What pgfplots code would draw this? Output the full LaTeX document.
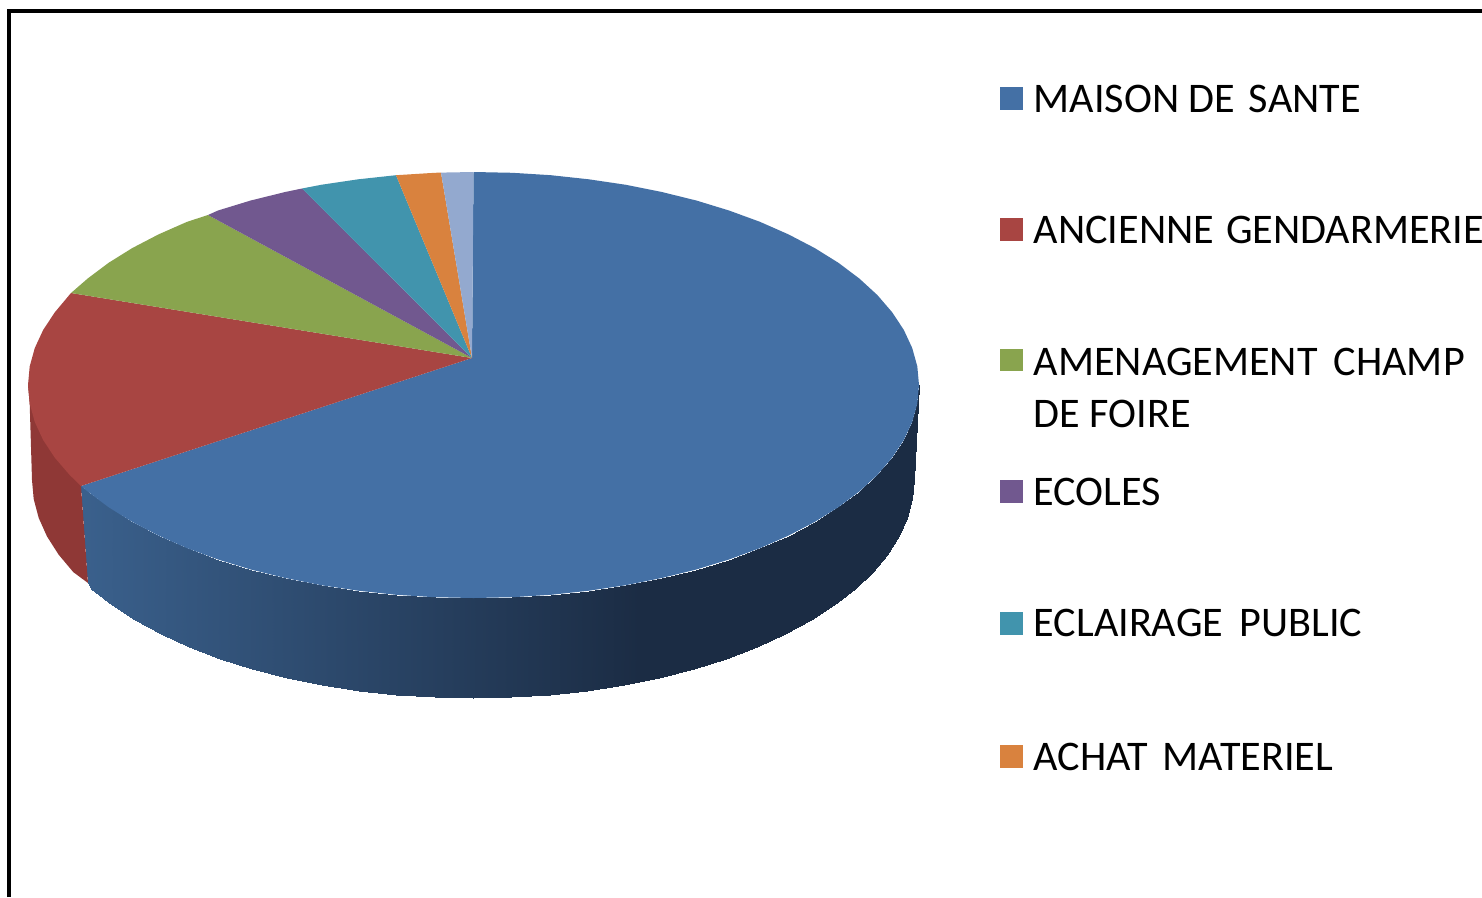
\documentclass[border=0pt]{standalone}
\usepackage{pgfplots}
\usepackage{fontspec}
\setmainfont{Carlito}
\pgfplotsset{compat=1.18}

\definecolor{sliceblue}{RGB}{68,112,165}
\definecolor{slicered}{RGB}{168,69,66}
\definecolor{sidered}{RGB}{143,56,54}
\definecolor{slicegreen}{RGB}{137,164,78}
\definecolor{slicepurple}{RGB}{113,88,143}
\definecolor{sliceteal}{RGB}{65,148,173}
\definecolor{sliceorange}{RGB}{217,130,62}
\definecolor{slicelight}{RGB}{147,169,207}

\newcommand{\legendtext}[2]{\node[anchor=base west,inner sep=0pt,font=\fontsize{12}{14}\selectfont] at (axis cs:1033,#1) {#2};}

\begin{document}
\begin{tikzpicture}
\begin{axis}[
  scale only axis,
  width=14.82cm, height=8.97cm,
  xmin=0, xmax=1482, ymin=0, ymax=897,
  y dir=reverse,
  axis lines=none,
  colormap={sideshade}{rgb255(0cm)=(58,96,140) rgb255(5.55cm)=(27,44,68) rgb255(8.35cm)=(27,44,68)},
  point meta min=85, point meta max=920,
]
% frame, cut off at the right and bottom
\addplot[black, line width=1pt] coordinates {(9,897) (9,11) (1482,11)};

% rim of the blue slice: top edge and bottom edge, pairwise
\addplot[surf, shader=interp, draw=none, mesh/rows=32, mesh/cols=2, point meta=x] table {
919 385
914 480
917.3 403.6
912.3 499
912.2 422
907.3 517.9
903.8 440.1
899 536.4
892.1 457.8
887.4 554.6
877.3 475
872.7 572.1
859.3 491.5
854.9 589
838.4 507.2
834.3 605
814.8 521.9
810.8 620.1
788.5 535.6
784.8 634.1
759.9 548.2
756.5 647
729 559.5
726 658.6
696.3 569.5
693.5 668.8
661.8 578
659.4 677.6
625.9 585.2
623.8 684.9
588.8 590.7
587.1 690.6
550.9 594.8
549.6 694.7
512.3 597.2
511.4 697.2
473.5 598
473 698
434.7 597.2
434.6 697.2
396.1 594.8
396.4 694.7
358.2 590.7
358.9 690.6
321.1 585.2
322.2 684.9
285.2 578
286.6 677.6
250.7 569.5
252.5 668.8
218 559.5
220 658.6
187.1 548.2
189.5 647
158.5 535.6
161.2 634.1
132.2 521.9
135.2 620.1
108.6 507.2
111.7 605
87.7 491.5
91.1 589
81 486
88 583
};

% rim of the red slice
\addplot[draw=none, fill=sidered] coordinates {
(81,486) (88,583) (73.3,572.1) (58.6,554.6) (47,536.4) (38.7,517.9) (33.7,499) (32,480)
(29.7,403.6) (28,385) (60,420)
} --cycle;

% top faces
\addplot[draw=none, fill=sliceblue] coordinates {
(472,358) (473.5,172) (512.3,172.8) (550.9,175.2) (588.8,179.3) (625.9,184.8) (661.8,192)
(696.3,200.5) (729,210.5) (759.9,221.8) (788.5,234.4) (814.8,248.1) (838.4,262.8)
(859.3,278.5) (877.3,295) (892.1,312.2) (903.8,329.9) (912.2,348) (917.3,366.4) (919,385)
(917.3,403.6) (912.2,422) (903.8,440.1) (892.1,457.8) (877.3,475) (859.3,491.5) (838.4,507.2)
(814.8,521.9) (788.5,535.6) (759.9,548.2) (729,559.5) (696.3,569.5) (661.8,578) (625.9,585.2)
(588.8,590.7) (550.9,594.8) (512.3,597.2) (473.5,598) (434.7,597.2) (396.1,594.8) (358.2,590.7)
(321.1,585.2) (285.2,578) (250.7,569.5) (218,559.5) (187.1,548.2) (158.5,535.6) (132.2,521.9)
(108.6,507.2) (87.7,491.5) (81,486)
} --cycle;
\addplot[draw=none, fill=slicered] coordinates {
(472,358) (81,486) (69.7,475) (54.9,457.8) (43.2,440.1) (34.8,422) (29.7,403.6) (28,385)
(29.7,366.4) (34.8,348) (43.2,329.9) (54.9,312.2) (71,293)
} --cycle;
\addplot[draw=none, fill=slicegreen] coordinates {
(472,358) (71,293) (87.7,278.5) (108.6,262.8) (132.2,248.1) (158.5,234.4) (187.1,221.8) (208,215)
} --cycle;
\addplot[draw=none, fill=slicepurple] coordinates {
(472,358) (208,215) (218,210.5) (250.7,200.5) (285.2,192) (302,188.5)
} --cycle;
\addplot[draw=none, fill=sliceteal] coordinates {
(472,358) (302,188.5) (321.1,184.8) (358.2,179.3) (396,175.2)
} --cycle;
\addplot[draw=none, fill=sliceorange] coordinates {
(472,358) (396,175.2) (434.7,172.8) (441,172.6)
} --cycle;
\addplot[draw=none, fill=slicelight] coordinates {
(472,358) (441,172.6) (473.5,172)
} --cycle;

% legend keys
\addplot[draw=none, fill=sliceblue] coordinates {(1000,87) (1023,87) (1023,110) (1000,110)} --cycle;
\addplot[draw=none, fill=slicered] coordinates {(1000,218) (1023,218) (1023,241) (1000,241)} --cycle;
\addplot[draw=none, fill=slicegreen] coordinates {(1000,349) (1023,349) (1023,371) (1000,371)} --cycle;
\addplot[draw=none, fill=slicepurple] coordinates {(1000,480) (1023,480) (1023,503) (1000,503)} --cycle;
\addplot[draw=none, fill=sliceteal] coordinates {(1000,612) (1023,612) (1023,635) (1000,635)} --cycle;
\addplot[draw=none, fill=sliceorange] coordinates {(1000,745) (1023,745) (1023,768) (1000,768)} --cycle;

\legendtext{113}{MAISON DE\hspace{0.4mm} SANTE}
\legendtext{243}{ANCIENNE\hspace{1.2mm}GENDARMERIE}
\legendtext{375}{AMENAGEMENT\hspace{1.6mm}CHAMP}
\legendtext{427}{DE FOIRE}
\legendtext{505}{ECOLES}
\legendtext{636}{ECLAIRAGE\hspace{0.7mm} PUBLIC}
\legendtext{770}{ACHAT\hspace{0.5mm} MATERIEL}
\end{axis}
\pgfresetboundingbox
\path (0,0) rectangle (14.82cm,8.97cm);
\end{tikzpicture}
\end{document}
